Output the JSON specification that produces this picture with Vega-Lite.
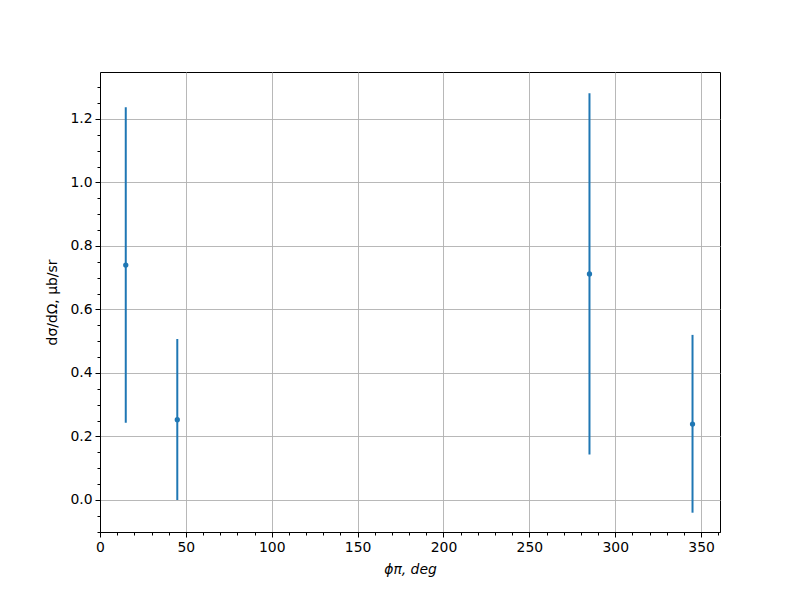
{
  "$schema": "https://vega.github.io/schema/vega-lite/v6.json",
  "width": 620,
  "height": 460,
  "autosize": "none",
  "padding": {"left": 100, "top": 72, "right": 80, "bottom": 68},
  "background": "white",
  "config": {
    "view": {"stroke": "black", "strokeWidth": 1},
    "font": "DejaVu Sans",
    "axis": {
      "labelFont": "DejaVu Sans",
      "titleFont": "DejaVu Sans",
      "labelFontSize": 13.9,
      "titleFontSize": 13.9,
      "labelColor": "black",
      "titleColor": "black",
      "titleFontWeight": "normal",
      "domainColor": "black",
      "tickColor": "black",
      "gridColor": "#b0b0b0",
      "gridWidth": 0.9,
      "tickSize": 5,
      "labelPadding": 3,
      "labelFlush": false
    }
  },
  "data": {
    "values": [
      {"phi": 15, "xs": 0.74, "lo": 0.243, "hi": 1.237},
      {"phi": 45, "xs": 0.253, "lo": 0.0, "hi": 0.507},
      {"phi": 285, "xs": 0.712, "lo": 0.143, "hi": 1.281},
      {"phi": 345, "xs": 0.239, "lo": -0.04, "hi": 0.52}
    ]
  },
  "resolve": {"axis": {"x": "independent", "y": "independent"}},
  "layer": [
    {
      "mark": {"type": "rule", "strokeWidth": 2, "color": "#1f77b4"},
      "encoding": {
        "x": {"field": "phi", "type": "quantitative",
              "scale": {"domain": [0, 361], "nice": false, "zero": false},
              "axis": {"values": [0, 50, 100, 150, 200, 250, 300, 350], "grid": true, "title": "ϕπ, deg", "titleFontStyle": "italic", "titlePadding": 9, "orient": "bottom"}},
        "y": {"field": "lo", "type": "quantitative",
              "scale": {"domain": [-0.1008, 1.348], "nice": false, "zero": false},
              "axis": {"values": [0, 0.2, 0.4, 0.6, 0.8, 1.0, 1.2], "format": ".1f", "grid": true, "title": "dσ/dΩ, μb/sr", "titlePadding": 10, "orient": "left"}},
        "y2": {"field": "hi"}
      }
    },
    {
      "mark": {"type": "point", "filled": true, "size": 28, "color": "#1f77b4", "opacity": 1},
      "encoding": {
        "x": {"field": "phi", "type": "quantitative",
              "axis": {"values": [10, 20, 30, 40, 60, 70, 80, 90, 110, 120, 130, 140, 160, 170, 180, 190, 210, 220, 230, 240, 260, 270, 280, 290, 310, 320, 330, 340, 360], "labels": false, "grid": false, "domain": false, "tickSize": 3, "title": null, "orient": "bottom"}},
        "y": {"field": "xs", "type": "quantitative",
              "axis": {"values": [-0.1, -0.05, 0.05, 0.1, 0.15, 0.25, 0.3, 0.35, 0.45, 0.5, 0.55, 0.65, 0.7, 0.75, 0.85, 0.9, 0.95, 1.05, 1.1, 1.15, 1.25, 1.3], "labels": false, "grid": false, "domain": false, "tickSize": 3, "title": null, "orient": "left"}}
      }
    }
  ]
}
